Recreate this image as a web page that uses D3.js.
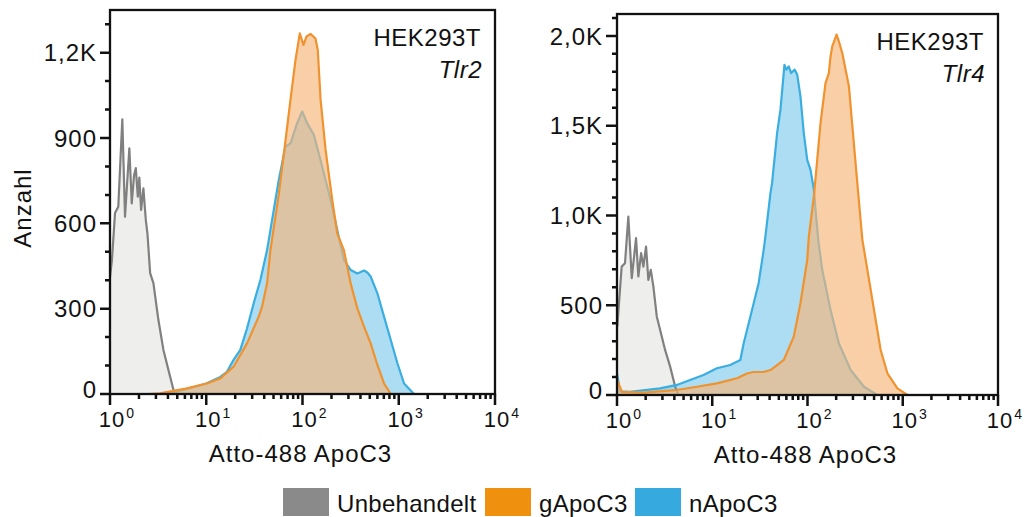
<!DOCTYPE html>
<html>
<head>
<meta charset="utf-8">
<script src="https://cdn.jsdelivr.net/npm/d3@7"></script>
<style>
  html, body { margin: 0; padding: 0; background: #fff; }
  svg { display: block; }
  text { font-family: "Liberation Sans", Arial, Helvetica, sans-serif; fill: #111; }
</style>
</head>
<body>
<svg id="chart" width="1025" height="517"></svg>
<script>
// Histogram points: [log10 Atto-488 intensity, cell count]
const tlr2Unbehandelt = [
  [0.0, 412], [0.02, 470], [0.052, 636], [0.086, 658], [0.128, 966], [0.156, 623],
  [0.201, 864], [0.226, 670], [0.25, 770], [0.268, 794], [0.289, 694], [0.305, 761],
  [0.323, 647], [0.347, 723], [0.372, 612], [0.39, 560], [0.417, 425], [0.451, 390],
  [0.503, 260], [0.555, 155], [0.607, 84], [0.66, 14], [0.695, 0]
];
const tlr2GApoC3 = [
  [0.4, 0], [0.521, 2], [0.799, 20], [1.007, 37], [1.146, 55], [1.284, 96], [1.424, 178],
  [1.545, 272], [1.58, 307], [1.632, 389], [1.667, 506], [1.753, 700], [1.823, 890],
  [1.875, 1034], [1.927, 1174], [1.972, 1268], [2.01, 1227], [2.042, 1257], [2.083, 1266],
  [2.135, 1250], [2.159, 1209], [2.188, 1034], [2.24, 858], [2.309, 682], [2.361, 565],
  [2.43, 506], [2.5, 389], [2.57, 301], [2.639, 237], [2.708, 178], [2.778, 102],
  [2.847, 37], [2.917, 0], [4.0, 0]
];
const tlr2NApoC3 = [
  [0.6, 0], [0.8, 18], [1.0, 37], [1.146, 60], [1.215, 78], [1.284, 120], [1.354, 155],
  [1.424, 231], [1.493, 319], [1.5625, 401], [1.632, 506], [1.753, 752], [1.823, 870],
  [1.875, 881], [1.944, 952], [1.997, 993], [2.049, 952], [2.118, 911], [2.205, 799],
  [2.292, 682], [2.361, 577], [2.43, 471], [2.5, 436], [2.57, 424], [2.639, 434],
  [2.674, 427], [2.708, 413], [2.778, 354], [2.847, 272], [2.917, 190], [2.986, 108],
  [3.055, 37], [3.159, 0], [4.0, 0]
];

const tlr4Unbehandelt = [
  [0.003, 381], [0.049, 715], [0.084, 734], [0.119, 994], [0.155, 651], [0.2, 874],
  [0.224, 660], [0.253, 790], [0.277, 715], [0.305, 827], [0.329, 641], [0.355, 697],
  [0.382, 604], [0.418, 436], [0.453, 362], [0.505, 251], [0.558, 158], [0.611, 46],
  [0.645, 0]
];
const tlr4GApoC3 = [
  [0.0, 84], [0.053, 17], [0.277, 13], [0.628, 28], [0.839, 46], [1.049, 65], [1.26, 93],
  [1.365, 120], [1.435, 128], [1.54, 128], [1.611, 139], [1.681, 167], [1.751, 195],
  [1.856, 325], [1.926, 511], [1.997, 752], [2.014, 882], [2.067, 1106], [2.102, 1310],
  [2.137, 1515], [2.189, 1737], [2.224, 1793], [2.242, 1886], [2.26, 1941], [2.305, 2007],
  [2.329, 1970], [2.365, 1905], [2.4, 1812], [2.435, 1719], [2.471, 1496], [2.523, 1180],
  [2.576, 864], [2.628, 700], [2.681, 529], [2.768, 251], [2.839, 121], [2.944, 37],
  [3.049, 0], [4.0, 0]
];
const tlr4NApoC3 = [
  [0.0, 120], [0.032, 20], [0.137, 18], [0.453, 37], [0.628, 56], [0.768, 84],
  [0.908, 111], [1.049, 149], [1.189, 167], [1.295, 195], [1.33, 288], [1.4, 436],
  [1.487, 623], [1.54, 808], [1.558, 882], [1.611, 1124], [1.628, 1180], [1.681, 1459],
  [1.716, 1589], [1.758, 1839], [1.779, 1812], [1.803, 1830], [1.828, 1793], [1.866, 1812],
  [1.892, 1784], [1.926, 1663], [1.961, 1459], [1.997, 1310], [2.032, 1254], [2.067, 1143],
  [2.084, 1031], [2.116, 850], [2.155, 697], [2.242, 474], [2.329, 288], [2.453, 139],
  [2.593, 46], [2.734, 0], [4.0, 0]
];

const seriesNames = ["Unbehandelt", "gApoC3", "nApoC3"];
const seriesColors = ["#808080", "#f0922e", "#3aaee0"];
const legendColors = ["#8a8a8a", "#f0900f", "#36a9de"];
const decadeTicks = [1, 10, 100, 1000, 10000];
const tlr2YTicks = [0, 300, 600, 900, 1200];
const tlr4YTicks = [0, 500, 1000, 1500, 2000];
const xTitle = "Atto-488 ApoC3";
const yTitle = "Anzahl";
const cellLine = "HEK293T";

const svg = d3.select("#chart");

function yLabel(v) {
  return v >= 1000 ? d3.format(".1f")(v / 1000).replace(".", ",") + "K" : String(v);
}

function drawPanel(cfg) {
  const x = d3.scaleLog().domain([1, 1e4]).range([cfg.left, cfg.right]);
  const y = d3.scaleLinear().domain([0, cfg.yMax]).range([cfg.bottom, cfg.top]);
  const g = svg.append("g");

  const area = d3.area().x(d => x(Math.pow(10, d[0]))).y0(y(0)).y1(d => y(d[1]));
  const line = d3.line().x(d => x(Math.pow(10, d[0]))).y(d => y(d[1]));

  const fills = [
    { fill: "#d6d6d2", op: 0.42 },
    { fill: "#f6b579", op: 0.65 },
    { fill: "#3aaee0", op: 0.42 }
  ];
  // draw order: untreated, nApoC3, gApoC3 on top
  const order = [0, 2, 1];
  order.forEach(i => {
    g.append("path").datum(cfg.data[i])
      .attr("d", area).attr("fill", fills[i].fill).attr("fill-opacity", fills[i].op);
    g.append("path").datum(cfg.data[i])
      .attr("d", line).attr("fill", "none").attr("stroke", seriesColors[i])
      .attr("stroke-width", 2.2).attr("stroke-linejoin", "round");
  });

  // tick marks: y minor every 100, x log minor ticks
  const minorY = d3.range(0, cfg.yMax + 1, 100);
  const minorX = [];
  for (let p = 0; p < 4; p++) for (let k = 2; k <= 9; k++) minorX.push(k * Math.pow(10, p));
  const tp = d3.path();
  minorY.forEach(d => {
    const len = cfg.yTicks.includes(d) ? cfg.majorLen : 5;
    tp.moveTo(cfg.left, y(d));
    tp.lineTo(cfg.left - len, y(d));
  });
  minorX.concat(decadeTicks).forEach(d => {
    const len = decadeTicks.includes(d) ? 11 : 5;
    tp.moveTo(x(d), cfg.bottom);
    tp.lineTo(x(d), cfg.bottom + len);
  });
  g.append("path").attr("d", tp.toString())
    .attr("fill", "none").attr("stroke", "#111").attr("stroke-width", 2.5);

  // frame
  g.append("rect")
    .attr("x", cfg.left).attr("y", cfg.top)
    .attr("width", cfg.right - cfg.left).attr("height", cfg.bottom - cfg.top)
    .attr("fill", "none").attr("stroke", "#111").attr("stroke-width", 2.3);

  g.append("g").selectAll("text").data(cfg.yTicks).join("text")
    .attr("x", cfg.left - cfg.majorLen - 3)
    .attr("y", d => y(d) + (d === 0 ? -5 : 0))
    .attr("dy", "0.36em")
    .attr("text-anchor", "end")
    .style("font-size", "24px").style("letter-spacing", "1px")
    .text(yLabel);

  decadeTicks.forEach(v => {
    const t = g.append("text")
      .attr("y", cfg.bottom + 33)
      .attr("text-anchor", "start")
      .style("font-size", "22px").style("letter-spacing", "1px");
    const base = t.append("tspan").text("10");
    const w = base.node().getComputedTextLength();
    t.attr("x", x(v) - w / 2 + 2);
    t.append("tspan").attr("dy", -9).attr("dx", 1).style("font-size", "14px")
      .text(String(Math.round(Math.log10(v))));
  });

  // axis title
  g.append("text")
    .attr("x", (cfg.left + cfg.right) / 2 - 2)
    .attr("y", cfg.bottom + 68)
    .attr("text-anchor", "middle")
    .style("font-size", "24px").style("letter-spacing", "1px")
    .text(xTitle);

  // annotation
  g.append("text")
    .attr("x", cfg.right - 14).attr("y", cfg.top + 36)
    .attr("text-anchor", "end")
    .style("font-size", "24px").style("letter-spacing", "0.5px")
    .text(cellLine);
  g.append("text")
    .attr("x", cfg.right - 13).attr("y", cfg.top + 68)
    .attr("text-anchor", "end")
    .style("font-size", "24px").style("font-style", "italic").style("letter-spacing", "0.5px")
    .text(cfg.gene);
}

drawPanel({
  left: 110, right: 495, top: 10, bottom: 394, yMax: 1350, majorLen: 10,
  yTicks: tlr2YTicks, gene: "Tlr2",
  data: [tlr2Unbehandelt, tlr2GApoC3, tlr2NApoC3]
});
drawPanel({
  left: 617, right: 998, top: 14, bottom: 395, yMax: 2122, majorLen: 11,
  yTicks: tlr4YTicks, gene: "Tlr4",
  data: [tlr4Unbehandelt, tlr4GApoC3, tlr4NApoC3]
});

// y axis title
svg.append("text")
  .attr("transform", "translate(31,208) rotate(-90)")
  .attr("text-anchor", "middle")
  .style("font-size", "24px").style("letter-spacing", "1px")
  .text(yTitle);

// legend
const legendX = [283, 485, 635];
const lg = svg.append("g");
seriesNames.forEach((name, i) => {
  lg.append("rect").attr("x", legendX[i]).attr("y", 488)
    .attr("width", 46).attr("height", 28).attr("fill", legendColors[i]);
  lg.append("text").attr("x", legendX[i] + 54).attr("y", 512)
    .style("font-size", "24px").style("letter-spacing", "0.3px")
    .text(name);
});
</script>
</body>
</html>
